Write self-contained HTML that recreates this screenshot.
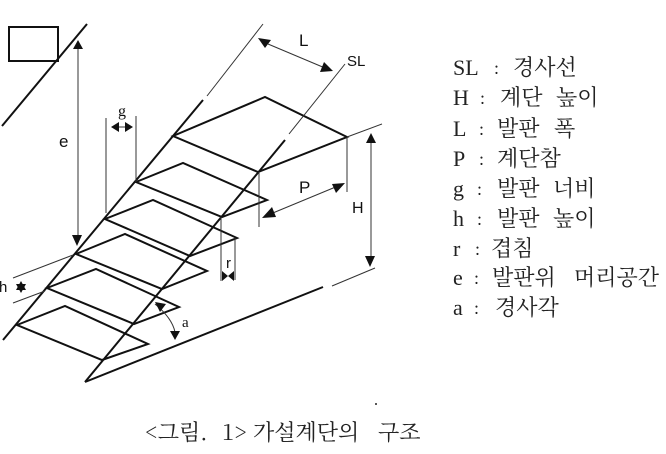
<!DOCTYPE html>
<html><head><meta charset="utf-8">
<style>
html,body{margin:0;padding:0;background:#fff;width:666px;height:454px;overflow:hidden}
svg{display:block}
.s{font-family:"Liberation Sans","Noto Sans CJK KR",sans-serif;fill:#111}
.t{font-family:"Liberation Serif","Noto Serif CJK SC",serif;font-size:22px;fill:#222}
.k{font-size:22px;font-family:"Noto Serif CJK SC","Liberation Serif",serif}
</style></head><body>
<svg width="666" height="454" viewBox="0 0 666 454" xmlns="http://www.w3.org/2000/svg">
<g fill="none" stroke="#111" stroke-width="2" stroke-linejoin="miter">
<path d="M9 27H58V61H9Z"/>
<path d="M2 126L87 24"/>
<path d="M3 340L203 100"/>
<path d="M85 382L285 140"/>
<path d="M85 382L323 287"/>
<path d="M173 136L265 97L347 137L258 172Z"/>
<path d="M136 182L183 163L267 200L222 217Z"/>
<path d="M105 219L153 200L237 238L190 256Z"/>
<path d="M76 254L125 234L207 271L162 289Z"/>
<path d="M47 288L96 269L179 307L134 324Z"/>
<path d="M17 325L65 306L148 344L102 360Z"/>
</g>
<g fill="none" stroke="#333" stroke-width="1">
<path d="M207 96L263 24"/>
<path d="M289 134L345 64"/>
<path d="M332 286L375 268"/>
<path d="M347 137L382 124"/>
<path d="M13 278L73 255"/>
<path d="M13 303L45 291"/>
<path d="M78 48V240"/>
<path d="M106 118V213"/>
<path d="M136 116V182"/>
<path d="M259 172V227"/>
<path d="M347 137V192"/>
<path d="M221 217V281"/>
<path d="M235 238V280"/>
<path d="M371 140V260"/>
<path d="M268 44L325 68"/>
<path d="M268 215L338 186"/>
<path d="M118 127H127"/>
<path d="M155 304Q172 318 175 332"/>
</g>
<g fill="#111">
<path d="M78 40L73 49H83Z"/>
<path d="M77 246L72 235H82Z"/>
<path d="M111 127L119 122V132Z"/>
<path d="M133 127L125 122V132Z"/>
<path d="M258 38L271 40L265 48Z"/>
<path d="M333 71L320 72L324 62Z"/>
<path d="M345 183L336 193L332 184Z"/>
<path d="M262 218L272 207L276 217Z"/>
<path d="M371 133L366 143H376Z"/>
<path d="M370 267L365 256H375Z"/>
<path d="M222 271V281L228 276Z"/>
<path d="M234 271V281L228 276Z"/>
<path d="M155 302L166 304L160 312Z"/>
<path d="M175 340L170 331H180Z"/>
<path d="M21 281L26 290H16Z"/>
<path d="M21 293L26 284H16Z"/>
</g>
<g class="s">
<text x="59" y="147" font-size="17">e</text>
<text x="118" y="116" font-size="16" font-family="Liberation Serif">g</text>
<text x="299" y="46" font-size="17">L</text>
<text x="347" y="66" font-size="15">SL</text>
<text x="299" y="193" font-size="17">P</text>
<text x="352" y="213" font-size="16">H</text>
<text x="226" y="268" font-size="15">r</text>
<text x="-1" y="292" font-size="15">h</text>
<text x="182" y="327" font-size="15" font-family="Liberation Serif">a</text>
</g>
<circle cx="376" cy="404" r="1" fill="#222"/>
<g class="t">
<text x="453" y="75">SL</text><text x="494" y="74" font-size="18">:</text><text class="k" x="513" y="75">경사선</text>
<text x="453" y="105">H</text><text x="480" y="104" font-size="18">:</text><text class="k" x="500" y="105">계단</text><text class="k" x="556" y="105">높이</text>
<text x="453" y="136">L</text><text x="479" y="135" font-size="18">:</text><text class="k" x="497" y="136">발판</text><text class="k" x="554" y="136">폭</text>
<text x="453" y="166">P</text><text x="479" y="165" font-size="18">:</text><text class="k" x="497" y="166">계단참</text>
<text x="453" y="196">g</text><text x="477" y="195" font-size="18">:</text><text class="k" x="497" y="196">발판</text><text class="k" x="553" y="196">너비</text>
<text x="453" y="226">h</text><text x="477" y="225" font-size="18">:</text><text class="k" x="497" y="226">발판</text><text class="k" x="553" y="226">높이</text>
<text x="453" y="256">r</text><text x="475" y="255" font-size="18">:</text><text class="k" x="491" y="256">겹침</text>
<text x="453" y="285">e</text><text x="474" y="284" font-size="18">:</text><text class="k" x="492" y="285">발판위</text><text class="k" x="574" y="285">머리공간</text>
<text x="453" y="315">a</text><text x="474" y="314" font-size="18">:</text><text class="k" x="495" y="315">경사각</text>
<text class="k" x="145" y="440">&lt;그림.</text><text class="k" x="222" y="440">1&gt;</text><text class="k" x="253" y="440">가설계단의</text><text class="k" x="378" y="440">구조</text>
</g>
</svg>
</body></html>
